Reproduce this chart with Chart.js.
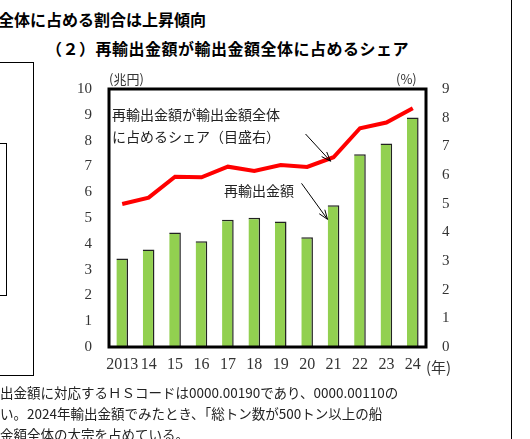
<!DOCTYPE html>
<html lang="ja">
<head>
<meta charset="UTF-8" />
<style>
  *{box-sizing:border-box;margin:0;padding:0;}
  body{width:530px;height:439px;background:#fff;position:relative;overflow:hidden;font-family:"Noto Sans CJK JP",sans-serif;color:#000;}
  .t{position:absolute;white-space:nowrap;}
  #wrap{position:absolute;left:40px;top:60px;width:440px;height:330px;}
</style>
</head>
<body>
  <div class="t" style="left:-2px;top:7px;font-size:16px;font-weight:700;">全体に占める割合は上昇傾向</div>
  <div class="t" style="left:46px;top:36px;font-size:16px;font-weight:700;letter-spacing:0.5px;">（２）再輸出金額が輸出金額全体に占めるシェア</div>
  <div style="position:absolute;left:-2px;top:62px;width:36px;height:314px;border:1px solid #000;"></div>
  <div style="position:absolute;left:-2px;top:143px;width:9px;height:153px;border:1px solid #000;"></div>
  <div style="position:absolute;left:511px;top:0;width:1px;height:439px;background:#000;"></div>
  <div id="wrap"><canvas id="chart" width="440" height="330"></canvas></div>
  <div class="t" style="left:109px;top:69px;font-size:13px;color:#333;">(兆円)</div>
  <div class="t" style="left:396px;top:69px;font-size:13px;color:#333;">(%)</div>
  <div class="t" style="left:426px;top:356px;font-size:15px;color:#333;">(年)</div>
  <div class="t" style="left:112px;top:103px;font-size:14px;line-height:22px;color:#222;">再輸出金額が輸出金額全体<br>に占めるシェア（目盛右）</div>
  <div class="t" style="left:224px;top:180px;font-size:14px;color:#222;">再輸出金額</div>
  <div class="t" style="left:0;top:382px;font-size:13.5px;line-height:21px;color:#222;">出金額に対応するＨＳコードは0000.00190であり、0000.00110の<br>い。2024年輸出金額でみたとき、「総トン数が500トン以上の船<br>金額全体の大宗を占めている。</div>

  <script src="https://cdn.jsdelivr.net/npm/chart.js@4.4.1/dist/chart.umd.min.js"></script>
  <script>
  const years=['2013','14','15','16','17','18','19','20','21','22','23','24'];
  const reexport=[3.43,3.78,4.44,4.1,4.93,5.01,4.86,4.25,5.49,7.47,7.89,8.9];
  const share=[4.99,5.21,5.94,5.92,6.29,6.14,6.35,6.28,6.62,7.63,7.83,8.33];

  // frame + arrows pointing at the 2021 marks
  const extras={
    id:'extras',
    afterDraw(chart){
      const {ctx,chartArea:a,scales}=chart;
      ctx.save();
      ctx.lineWidth=3;ctx.strokeStyle='#000';
      ctx.strokeRect(a.left,a.top,a.right-a.left,a.bottom-a.top);
      const arrow=(x0,y0,x1,y1)=>{
        ctx.lineWidth=1;ctx.beginPath();ctx.moveTo(x0,y0);ctx.lineTo(x1,y1);ctx.stroke();
        const ang=Math.atan2(y1-y0,x1-x0);
        ctx.beginPath();
        ctx.moveTo(x1-10*Math.cos(ang-0.35),y1-10*Math.sin(ang-0.35));
        ctx.lineTo(x1,y1);
        ctx.lineTo(x1-10*Math.cos(ang+0.35),y1-10*Math.sin(ang+0.35));
        ctx.stroke();
      };
      const x21=scales.x.getPixelForValue(8);
      arrow(x21-28,a.top+45,x21-3,scales.y1.getPixelForValue(share[8])+4);
      arrow(x21-32,scales.y.getPixelForValue(reexport[8])-22,x21-6,scales.y.getPixelForValue(reexport[8])+14);
      ctx.restore();
    }
  };

  new Chart(document.getElementById('chart'),{
    data:{labels:years,datasets:[
      {type:'line',data:share,yAxisID:'y1',borderColor:'#ff0000',borderWidth:4,pointRadius:0,tension:0,order:0},
      {type:'bar',data:reexport,yAxisID:'y',backgroundColor:'#92d050',borderColor:'#222',borderWidth:{top:1.5,right:1.5,left:0,bottom:0},barPercentage:0.44,categoryPercentage:1,order:1}
    ]},
    options:{
      responsive:false,animation:false,
      layout:{padding:{top:29,right:0,bottom:0,left:0}},
      plugins:{legend:{display:false},tooltip:{enabled:false}},
      scales:{
        x:{grid:{display:false,drawTicks:false},border:{display:false},
           afterFit:s=>{s.height=43;},
           ticks:{color:'#333',padding:8,autoSkip:false,maxRotation:0,font:{family:'Liberation Serif',size:16}}},
        y:{min:0,max:10,position:'left',grid:{display:false},border:{display:false},
           afterFit:s=>{s.width=69;},
           ticks:{stepSize:1,color:'#333',padding:9,font:{family:'Liberation Serif',size:15}}},
        y1:{min:0,max:9,position:'right',grid:{display:false},border:{display:false},
           afterFit:s=>{s.width=54;},
           ticks:{stepSize:1,color:'#333',padding:8,font:{family:'Liberation Serif',size:15}}}
      }
    },
    plugins:[extras]
  });
  </script>
</body>
</html>
